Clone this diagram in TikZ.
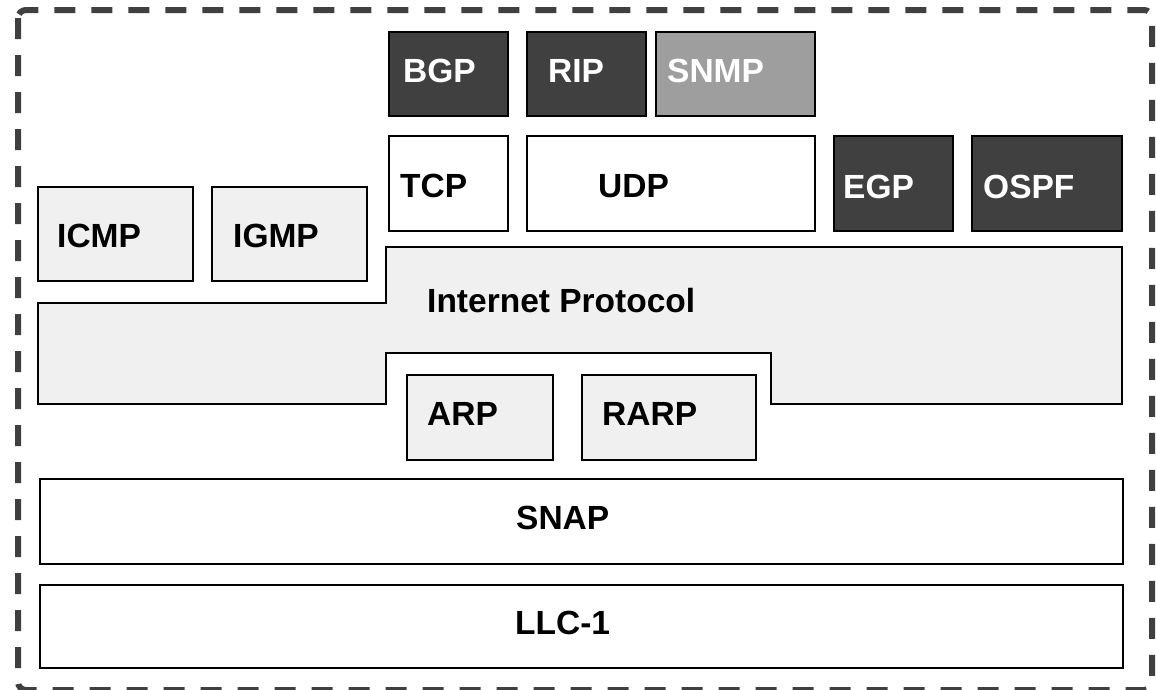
\documentclass[tikz,border=0pt]{standalone}
\usepackage{fontspec}
\setmainfont{Liberation Sans}
\definecolor{lightfill}{HTML}{F0F0F0}
\definecolor{darkfill}{HTML}{404040}
\definecolor{midfill}{HTML}{9E9E9E}
\begin{document}
\begin{tikzpicture}[x=1pt,y=-1pt,
  box/.style={draw=black,line width=1.2pt},
  lightbox/.style={box,fill=lightfill},
  whitebox/.style={box,fill=white},
  darkbox/.style={box,fill=darkfill},
  midbox/.style={box,fill=midfill},
  lbl/.style={anchor=base west,inner sep=0pt,font=\fontsize{33.5}{40}\selectfont\bfseries,text=black},
  wlbl/.style={lbl,text=white},
  frame/.style={draw=darkfill,line width=6pt,dash pattern=on 21pt off 16pt,rounded corners=8pt}
]
\useasboundingbox (0,0) rectangle (1156,689);
\fill[white] (0,0) rectangle (1156,689);
% outer dashed frame
\draw[frame] (18,10) rectangle (1152,690);

% top row
\draw[darkbox] (389,32) rectangle (508,116);
\draw[darkbox] (527,32) rectangle (646,116);
\draw[midbox] (656,32) rectangle (815,116);
\node[wlbl] (bgp) at (403,82) {BGP};
\node[wlbl] (rip) at (548,82) {RIP};
\node[wlbl] (snmp) at (667,82) {SNMP};

% transport row
\draw[whitebox] (389,136) rectangle (508,231);
\draw[whitebox] (527,136) rectangle (815,231);
\draw[darkbox] (834,136) rectangle (953,231);
\draw[darkbox] (972,136) rectangle (1122,231);
\node[lbl] (tcp) at (400,197) {TCP};
\node[lbl] (udp) at (598,197) {UDP};
\node[wlbl] (egp) at (843,198) {EGP};
\node[wlbl] (ospf) at (983,198) {OSPF};

% ICMP / IGMP
\draw[lightbox] (38,187) rectangle (193,281);
\draw[lightbox] (212,187) rectangle (367,281);
\node[lbl] (icmp) at (57,247) {ICMP};
\node[lbl] (igmp) at (233,247) {IGMP};

% Internet Protocol
\draw[lightbox] (38,303) -- (386,303) -- (386,247) -- (1122,247) -- (1122,404)
  -- (771,404) -- (771,353) -- (386,353) -- (386,404) -- (38,404) -- cycle;
\node[lbl] (ip) at (427,312) {Internet Protocol};

% ARP / RARP
\draw[lightbox] (407,375) rectangle (553,460);
\draw[lightbox] (582,375) rectangle (756,460);
\node[lbl] (arp) at (427,425) {ARP};
\node[lbl] (rarp) at (602,425) {RARP};

% SNAP / LLC-1
\draw[whitebox] (40,479) rectangle (1123,564);
\draw[whitebox] (40,585) rectangle (1123,668);
\node[lbl] (snap) at (516,529) {SNAP};
\node[lbl] (llc) at (515,634) {LLC-1};
\end{tikzpicture}
\end{document}
